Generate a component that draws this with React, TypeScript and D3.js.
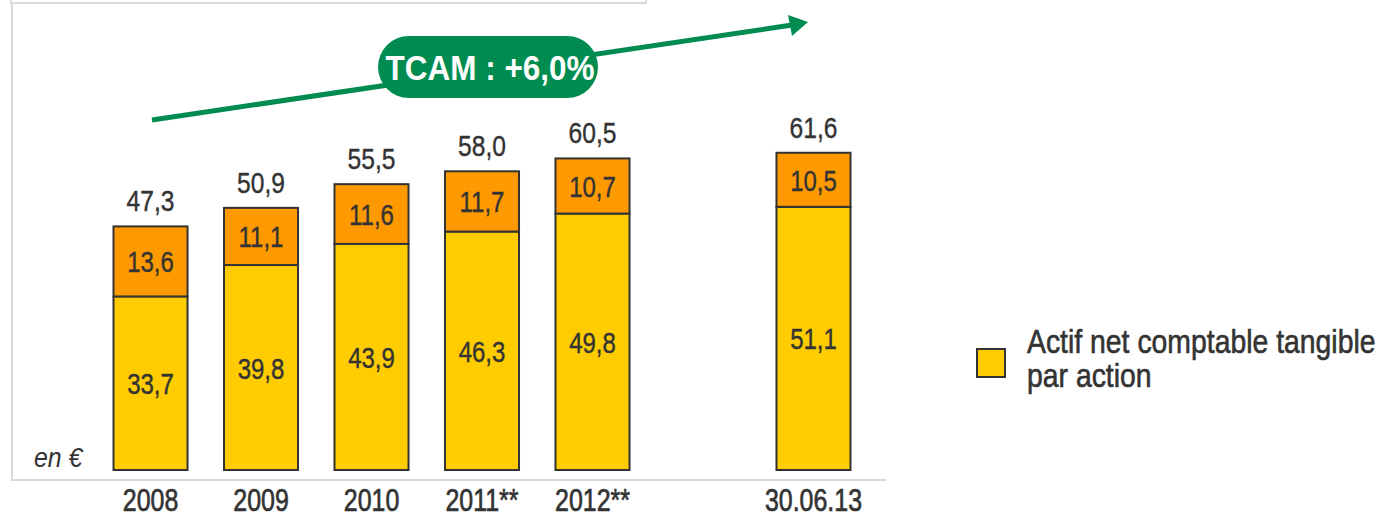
import { useEffect, useRef } from 'react'
import * as d3 from 'd3'

const categories = ['2008', '2009', '2010', '2011**', '2012**', '', '30.06.13']
const tangible = [33.7, 39.8, 43.9, 46.3, 49.8, null, 51.1]
const intangible = [13.6, 11.1, 11.6, 11.7, 10.7, null, 10.5]
const totals = ['47,3', '50,9', '55,5', '58,0', '60,5', '', '61,6']
const legendLines = ['Actif net comptable tangible', 'par action']
const growthLabel = 'TCAM : +6,0%'

const W = 1391
const H = 516
const FONT = '"Liberation Sans", Arial, sans-serif'
const TEXT = '#333333'
const YELLOW = '#FFCC00'
const ORANGE = '#FF9900'
const GREEN = '#008C50'
const FRAME = '#d9d9d9'

const fmt = (v: number) => v.toFixed(1).replace('.', ',')

// no narrow font installed, so squeeze text horizontally
function narrowText(parent: any, x: number, y: number, txt: string, size: number, sx: number, anchor = 'middle') {
  return parent.append('text')
    .attr('transform', `translate(${x},${y}) scale(${sx},1)`)
    .attr('text-anchor', anchor)
    .attr('font-family', FONT)
    .attr('font-size', size)
    .attr('fill', TEXT)
    .attr('stroke', TEXT)
    .attr('stroke-width', 0.4)
    .text(txt)
}

function App() {
  const ref = useRef<SVGSVGElement>(null)

  useEffect(() => {
    const svg = d3.select(ref.current)
    svg.selectAll('*').remove()

    const key = (i: number) => categories[i] || `gap${i}`
    const x = d3.scaleBand().domain(categories.map((_, i) => key(i))).range([113.5, 850.5]).paddingInner(0.33).paddingOuter(0)
    const y = d3.scaleLinear().domain([0, 70]).range([470, 109.5])

    // frame
    svg.append('path')
      .attr('d', 'M11,0 V3 H646 V0')
      .attr('fill', 'none').attr('stroke', FRAME).attr('stroke-width', 2)
    svg.append('path')
      .attr('d', 'M12,3 V480 H886')
      .attr('fill', 'none').attr('stroke', FRAME).attr('stroke-width', 2)

    // growth arrow
    svg.append('line')
      .attr('x1', 152).attr('y1', 120).attr('x2', 792).attr('y2', 25)
      .attr('stroke', GREEN).attr('stroke-width', 5)
    svg.append('path')
      .attr('d', 'M808,22 L788,15 L792,36 Z')
      .attr('fill', GREEN)
    svg.append('rect')
      .attr('x', 378).attr('y', 36).attr('width', 220).attr('height', 62).attr('rx', 31)
      .attr('fill', GREEN)
    narrowText(svg, 490, 80, growthLabel, 35, 0.9)
      .attr('font-weight', 'bold').attr('fill', '#fff').attr('stroke', 'none')

    const bw = x.bandwidth()
    const g = svg.append('g')
    categories.forEach((c, i) => {
      const t = tangible[i]
      const n = intangible[i]
      if (t == null || n == null) return
      const x0 = x(key(i)) as number
      const cx = x0 + bw / 2
      g.append('rect')
        .attr('x', x0).attr('y', y(t)).attr('width', bw).attr('height', y(0) - y(t))
        .attr('fill', YELLOW).attr('stroke', TEXT).attr('stroke-width', 2)
      g.append('rect')
        .attr('x', x0).attr('y', y(t + n)).attr('width', bw).attr('height', y(t) - y(t + n))
        .attr('fill', ORANGE).attr('stroke', TEXT).attr('stroke-width', 2)
      narrowText(g, cx, (y(0) + y(t)) / 2 + 11, fmt(t), 30, 0.8)
      narrowText(g, cx, (y(t) + y(t + n)) / 2 + 11, fmt(n), 30, 0.8)
      narrowText(g, cx, y(t + n) - 15, totals[i], 30, 0.82)
      narrowText(g, cx, 511, c, 32, 0.78).attr('stroke-width', 0.7)
    })

    narrowText(svg, 34, 467, 'en €', 27, 0.92, 'start').attr('font-style', 'italic').attr('stroke', 'none')

    // legend
    svg.append('rect')
      .attr('x', 977).attr('y', 349).attr('width', 28).attr('height', 28)
      .attr('fill', YELLOW).attr('stroke', TEXT).attr('stroke-width', 2)
    legendLines.forEach((line, i) => {
      narrowText(svg, 1027, 353 + i * 34, line, 33, 0.86, 'start').attr('stroke-width', 0.6)
    })
  }, [])

  return (
    <svg ref={ref} width={W} height={H} style={{ position: 'absolute', left: 0, top: 0, background: '#fff' }} />
  )
}

export default App
